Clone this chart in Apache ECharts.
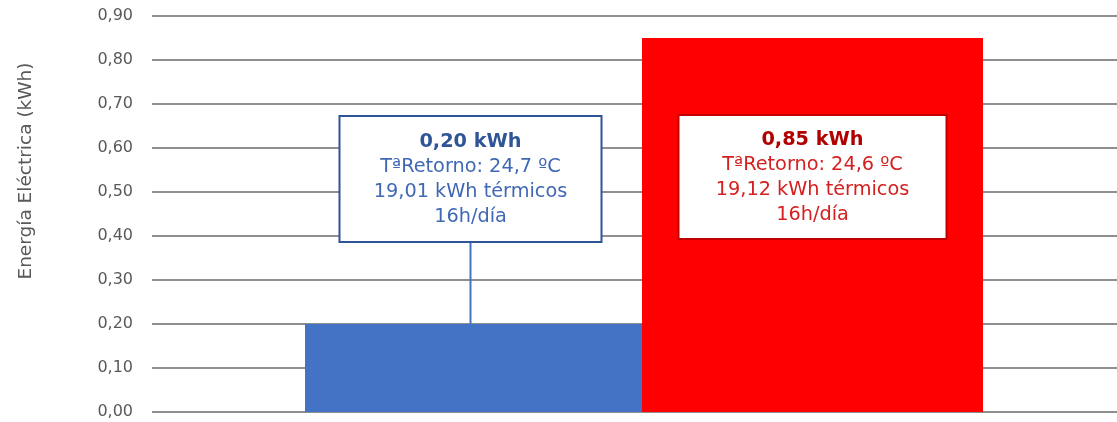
<!DOCTYPE html>
<html><head><meta charset="utf-8">
<script src="https://cdn.jsdelivr.net/npm/echarts@6/dist/echarts.min.js"></script>
<style>html,body{margin:0;padding:0;background:#fff}#c{width:1117px;height:422px}</style>
</head><body><div id="c"></div>
<script>
const categories = ['Consumo'];
const seriesNames = ['Equipo A', 'Equipo B'];
const valuesA = [0.20];
const valuesB = [0.85];
const labelsA = ['0,20 kWh', 'TªRetorno: 24,7 ºC', '19,01 kWh térmicos', '16h/día'];
const labelsB = ['0,85 kWh', 'TªRetorno: 24,6 ºC', '19,12 kWh térmicos', '16h/día'];
const yTicks = [0, 0.1, 0.2, 0.3, 0.4, 0.5, 0.6, 0.7, 0.8, 0.9];
const yTitle = 'Energía Eléctrica (kWh)';

const font = '"DejaVu Sans", "Open Sans", sans-serif';
function fmtLabel(lines) {
  return '{b|' + lines[0] + '}\n' + lines.slice(1).join('\n');
}
const chart = echarts.init(document.getElementById('c'));
chart.setOption({
  animation: false,
  grid: { left: 152, width: 984, top: 16, bottom: 10, outerBoundsMode: 'none', containLabel: false },
  xAxis: {
    type: 'category', data: categories,
    axisLine: { show: false }, axisTick: { show: false }, axisLabel: { show: false }
  },
  yAxis: {
    type: 'value', min: yTicks[0], max: yTicks[yTicks.length - 1], interval: 0.1,
    axisLabel: { color: '#595959', fontSize: 16, fontFamily: font, margin: 19,
      formatter: v => v.toFixed(2).replace('.', ',') },
    splitLine: { lineStyle: { color: '#8f8f8f', width: 2 } },
    axisLine: { show: false }, axisTick: { show: false }
  },
  graphic: [{
    type: 'text', x: 26, y: 171, rotation: Math.PI / 2,
    style: { text: yTitle, fill: '#595959', fontSize: 18.5, fontFamily: font,
      align: 'center', verticalAlign: 'middle' }
  }],
  series: [
    {
      name: seriesNames[0], type: 'bar', barWidth: 337, barGap: 0,
      data: valuesA,
      itemStyle: { color: '#4472C4' },
      label: {
        show: true, position: 'top', distance: 0,
        formatter: () => fmtLabel(labelsA),
        color: '#4068B4', fontSize: 19.3, fontFamily: font, lineHeight: 25, align: 'center',
        backgroundColor: '#fff', borderColor: '#2F5597', borderWidth: 2,
        width: 240, padding: [12, 10, 12, 10],
        rich: { b: { fontWeight: 'bold', color: '#2F5597', fontSize: 19.3, fontFamily: font, lineHeight: 25 } }
      },
      labelLayout: { dy: -83, dx: -3 },
      labelLine: { show: true, lineStyle: { color: '#4472C4', width: 2 } }
    },
    {
      name: seriesNames[1], type: 'bar', barWidth: 341,
      data: valuesB,
      itemStyle: { color: '#FF0000' },
      label: {
        show: true, position: 'insideTop', distance: 78,
        formatter: () => fmtLabel(labelsB),
        color: '#D42020', fontSize: 19.3, fontFamily: font, lineHeight: 25, align: 'center',
        backgroundColor: '#fff', borderColor: '#C00000', borderWidth: 2,
        width: 246, padding: [11, 10, 11, 10],
        rich: { b: { fontWeight: 'bold', color: '#B00000', fontSize: 19.3, fontFamily: font, lineHeight: 25 } }
      }
    }
  ]
});
</script></body></html>
